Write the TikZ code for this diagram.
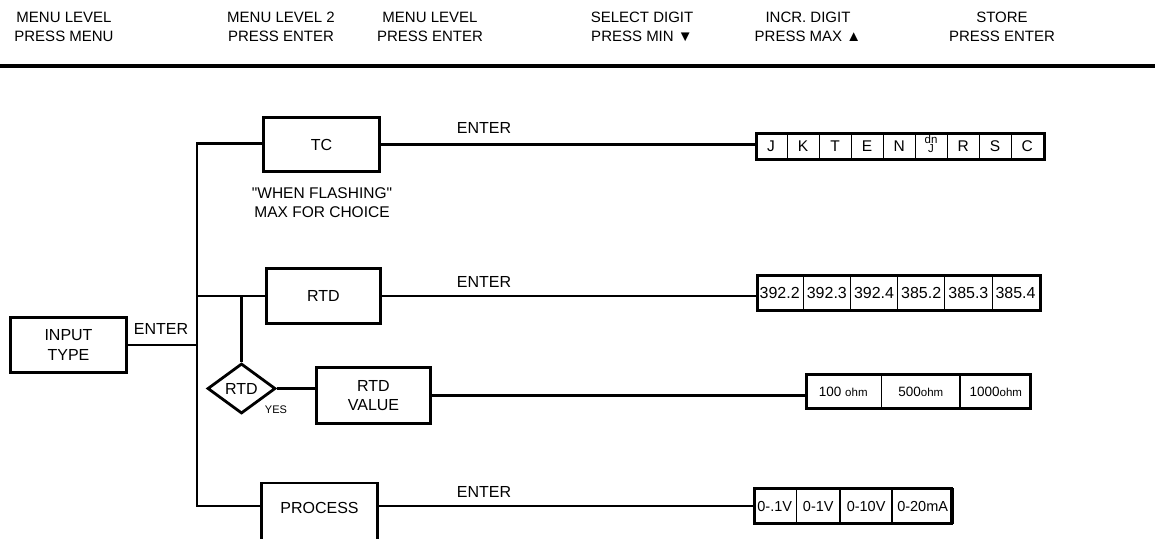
\documentclass[tikz,border=0pt]{standalone}
\usepackage{fontspec}
\setmainfont{Liberation Sans}
\newfontfamily\qfont{Liberation Sans}[Ligatures=Common]
\usetikzlibrary{shapes.geometric}
\newcommand\ohmsm{{\fontsize{11.5}{11.5}\selectfont ohm}}
\newcommand\dnstack{\raisebox{-6.5pt}[0pt][0pt]{\vbox{\baselineskip=9.5pt\lineskiplimit=-5pt\lineskip=0pt\halign{\hfil##\hfil\cr dn\cr J\cr}}}}
\begin{document}
\begin{tikzpicture}[x=1pt,y=-1pt,
  txt/.style={font=\fontsize{15}{19}\selectfont, inner sep=0, align=center},
  dtxt/.style={font=\fontsize{16}{19.5}\selectfont, inner sep=0, align=center},
  box/.style={dtxt, draw, line width=2.8pt, minimum width=116, minimum height=55.5},
  conn/.style={line width=2.8pt},
  rowbox/.style={draw, line width=2.8pt, inner sep=0},
  cell/.style={draw=black, line width=0.8pt, inner sep=0, align=center},
  nf/.style={},
  dnf/.style={font=\fontsize{11.5}{11.5}\selectfont},
  cellA/.style={cell, font=\fontsize{15.5}{19}\selectfont, minimum width=32, minimum height=26},
  cellB/.style={cell, font=\fontsize{16}{19}\selectfont, minimum width=47.17, minimum height=35.5},
  cellC/.style={cell, font=\fontsize{13.5}{15}\selectfont, minimum height=34.5, anchor=west},
  cellD/.style={cell, font=\fontsize{14.5}{17}\selectfont, minimum height=35, anchor=west}
]
\useasboundingbox (0,0) rectangle (1155,538);
\clip (0,0) rectangle (1155,538);

% header
\node[txt] (h1) at (64,27) {MENU LEVEL\\PRESS MENU};
\node[txt] (h2) at (281,27) {MENU LEVEL 2\\PRESS ENTER};
\node[txt] (h3) at (430,27) {MENU LEVEL\\PRESS ENTER};
\node[txt] (h4) at (642,27) {SELECT DIGIT\\PRESS MIN ▼};
\node[txt] (h5) at (808,27) {INCR. DIGIT\\PRESS MAX ▲};
\node[txt] (h6) at (1002,27) {STORE\\PRESS ENTER};
\coordinate (hl) at (0,66);
\coordinate (hr) at (1155,66);
\draw[line width=3.2pt] (hl) -- (hr);

% main boxes
\node[box, minimum width=116.5] (input) at (68.5,345) {INPUT\\TYPE};
\node[box, minimum height=54] (tc) at (321.5,144.5) {TC};
\node[box, minimum width=114] (rtd) at (323.5,296) {RTD};
\node[dtxt, draw, shape=diamond, line width=2.8pt, minimum width=68, minimum height=50, aspect=1.36] (dia) at (241.5,388.5) {RTD};
\node[box, minimum width=114, minimum height=56] (rtdval) at (373.5,395.5) {RTD\\VALUE};
\node[box, minimum height=64, text height=10.5pt, text depth=14.5pt] (proc) at (319.5,515) {PROCESS};

% labels
\node[dtxt] (e0) at (161,329) {ENTER};
\node[dtxt] (e1) at (484,128) {ENTER};
\node[dtxt] (e2) at (484,282) {ENTER};
\node[dtxt] (e3) at (484,492) {ENTER};
\node[dtxt, font=\qfont\fontsize{15.5}{19}\selectfont] (flash) at (322,202.5) {"WHEN FLASHING"\\MAX FOR CHOICE};
\node[txt, font=\fontsize{11}{12}\selectfont] (yes) at (276,410) {YES};

% TC row
\node[rowbox, minimum width=288, minimum height=26.3] (tcrow) at (900.5,146.3) {};
\foreach \t/\s [count=\i] in {J/nf,K/nf,T/nf,E/nf,N/nf,\dnstack/dnf,R/nf,S/nf,C/nf}
  \node[cellA, minimum height=26.3, \s] (tc\i) at ([xshift={(\i-0.5)*32}]tcrow.west) {\t};

% RTD row
\node[rowbox, minimum width=283, minimum height=35.5] (rtdrow) at (899,293) {};
\foreach \t [count=\i] in {392.2,392.3,392.4,385.2,385.3,385.4}
  \node[cellB] (rv\i) at ([xshift={(\i-0.5)*47.17}]rtdrow.west) {\t};

% ohm row
\node[rowbox, minimum width=224, minimum height=34.5] (ohmrow) at (918.5,391.5) {};
\node[cellC, minimum width=75.5] (o1) at (ohmrow.west) {100 \ohmsm};
\node[cellC, minimum width=78] (o2) at (o1.east) {500\ohmsm};
\node[cellC, minimum width=70.5] (o3) at (o2.east) {1000\ohmsm};

% process row
\node[rowbox, minimum width=197, minimum height=35] (procrow) at (853,506) {};
\node[cellD, minimum width=42.5] (p1) at (procrow.west) {0-.1V};
\node[cellD, minimum width=43] (p2) at (p1.east) {0-1V};
\node[cellD, minimum width=51] (p3) at (p2.east) {0-10V};
\node[cellD, minimum width=60.5] (p4) at (p3.east) {0-20mA};

% connectors
\coordinate (bustop) at (197,143.5);
\coordinate (busbot) at (197,506);
\draw[conn] (tc.west |- bustop) -- (bustop) -- (busbot) -- (busbot -| proc.west);
\draw[conn] (input.east) -- (input.east -| bustop);
\draw[conn] (rtd.west -| bustop) -- (rtd.west);
\draw[conn] (rtd.west -| dia.north) -- (dia.north);
\draw[conn] (dia.east) -- (dia.east -| rtdval.west);
\draw[conn] (tc.east) -- (tc.east -| tcrow.west);
\draw[conn] (rtd.east) -- (rtd.east -| rtdrow.west);
\draw[conn] (rtdval.east) -- (rtdval.east -| ohmrow.west);
\draw[conn] (busbot -| proc.east) -- (busbot -| procrow.west);
\end{tikzpicture}
\end{document}
